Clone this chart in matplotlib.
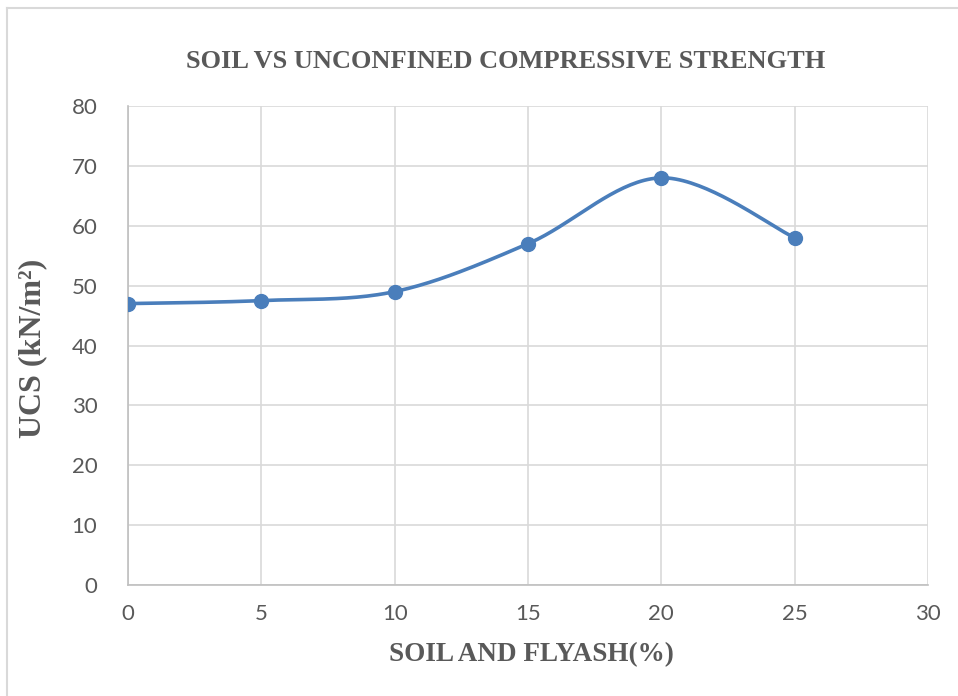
import numpy as np
import matplotlib
matplotlib.use("Agg")
import matplotlib.pyplot as plt
from matplotlib.lines import Line2D

x_vals = [0, 5, 10, 15, 20, 25]
ucs_vals = [47, 47.5, 49, 57, 68, 58]
x_ticks = [0, 5, 10, 15, 20, 25, 30]
y_ticks = [0, 10, 20, 30, 40, 50, 60, 70, 80]

title = "SOIL VS UNCONFINED COMPRESSIVE STRENGTH"
xlabel = "SOIL AND FLYASH(%)"
ylabel = "UCS (kN/m²)"

W, H = 958, 696
fig = plt.figure(figsize=(W/100, H/100), dpi=100)
ax = fig.add_axes([128/W, 1-585/H, 800/W, 479/H])

# Excel-like smoothed line (Catmull-Rom Bezier)
def smooth(xs, ys, n=40):
    P = np.column_stack([xs, ys]).astype(float)
    out = []
    for i in range(len(P)-1):
        p0 = P[i-1] if i > 0 else P[i]
        p1 = P[i]
        p2 = P[i+1]
        p3 = P[i+2] if i+2 < len(P) else P[i+1]
        c1 = p1 + (p2 - p0)/6
        c2 = p2 - (p3 - p1)/6
        t = np.linspace(0, 1, n)[:, None]
        seg = (1-t)**3*p1 + 3*(1-t)**2*t*c1 + 3*(1-t)*t**2*c2 + t**3*p2
        out.append(seg if i == 0 else seg[1:])
    S = np.vstack(out)
    return S[:, 0], S[:, 1]

sx, sy = smooth(x_vals, ucs_vals)
color = "#4A7EBB"
ax.plot(sx, sy, color=color, lw=2.6, solid_capstyle="round", zorder=3)
ax.plot(x_vals, ucs_vals, "o", color=color, ms=10, zorder=4)

ax.set_xlim(0, 30)
ax.set_ylim(0, 80)
ax.set_xticks(x_ticks)
ax.set_yticks(y_ticks)
ax.grid(True, color="#D9D9D9", lw=1.2)
ax.set_axisbelow(True)
for s in ["top", "right"]:
    ax.spines[s].set_visible(False)
for s in ["left", "bottom"]:
    ax.spines[s].set_color("#BFBFBF")
    ax.spines[s].set_linewidth(1.2)
ax.tick_params(length=0, labelsize=16, labelcolor="#595959")
ax.tick_params(axis="x", pad=14)
ax.tick_params(axis="y", pad=22)
for lab in ax.get_xticklabels() + ax.get_yticklabels():
    lab.set_fontfamily("Lato")

fig.text(506/W, 1-62/H, title, ha="center", va="center", fontsize=19,
         fontweight="bold", family="Liberation Serif", color="#595959")
fig.text(531/W, 1-655/H, xlabel, ha="center", va="center", fontsize=19.5,
         fontweight="bold", family="Liberation Serif", color="#595959")
fig.text(33/W, 1-348/H, ylabel, ha="center", va="center", fontsize=23,
         fontweight="bold", family="Liberation Serif", color="#595959",
         rotation=90)

# outer chart frame
fig.add_artist(Line2D([7/W, 7/W], [0, 1-8/H], color="#D9D9D9", lw=1.5,
                      transform=fig.transFigure))
fig.add_artist(Line2D([7/W, 1], [1-8/H, 1-8/H], color="#D9D9D9", lw=1.5,
                      transform=fig.transFigure))

fig.savefig("out.png", dpi=100, facecolor="white")
